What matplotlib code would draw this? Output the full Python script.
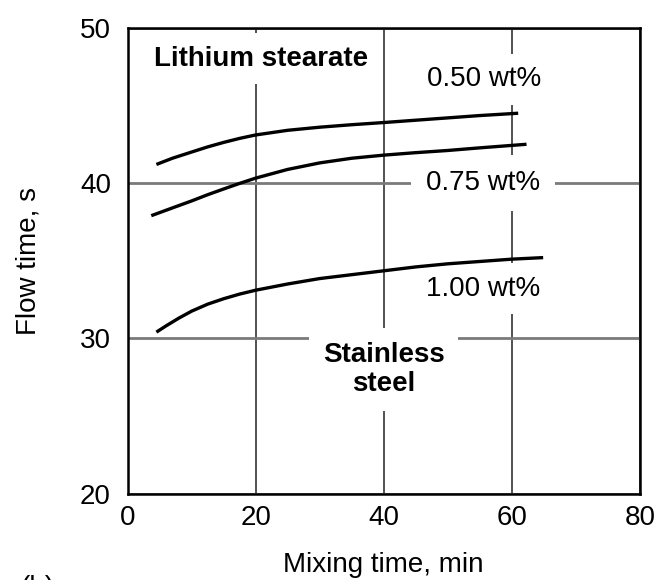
import matplotlib
matplotlib.use("Agg")
import matplotlib.pyplot as plt

plt.rcParams["font.family"] = ["Liberation Sans", "DejaVu Sans"]

# mixing time (min) vs flow time (s)
mix_050 = [4.5, 7, 10, 12.5, 15, 17.5, 20, 25, 30, 35, 40, 45, 50, 55, 61]
flow_050 = [41.2, 41.6, 42.0, 42.33, 42.62, 42.88, 43.1, 43.4, 43.6, 43.76,
            43.9, 44.05, 44.2, 44.35, 44.5]

mix_075 = [3.7, 7, 10, 12.5, 15, 17.5, 20, 25, 30, 35, 40, 45, 50, 55, 62.3]
flow_075 = [37.9, 38.4, 38.85, 39.25, 39.62, 39.98, 40.32, 40.88, 41.3, 41.6,
            41.8, 41.96, 42.1, 42.27, 42.5]

mix_100 = [4.5, 6, 8, 10, 12.5, 15, 17.5, 20, 25, 30, 35, 40, 45, 50, 55, 60, 64.9]
flow_100 = [30.4, 30.8, 31.3, 31.75, 32.2, 32.55, 32.85, 33.1, 33.5, 33.85,
            34.1, 34.35, 34.6, 34.8, 34.95, 35.1, 35.2]

x_ticks = [0, 20, 40, 60, 80]
y_ticks = [20, 30, 40, 50]

FS = 20


def main():
    fig = plt.figure(figsize=(6.61, 5.8), dpi=100)
    ax = fig.add_axes([0.193, 0.149, 0.775, 0.803])

    ax.set_xlim(0, 80)
    ax.set_ylim(20, 50)
    ax.set_xticks(x_ticks)
    ax.set_yticks(y_ticks)
    ax.tick_params(length=0, labelsize=FS, pad=8)
    ax.tick_params(axis="y", pad=12)

    ax.xaxis.grid(True, color="#222222", lw=1.1)
    ax.yaxis.grid(True, color="#7a7a7a", lw=2.0)
    for sp in ax.spines.values():
        sp.set_linewidth(1.8)
        sp.set_zorder(5)

    for x, y in [(mix_050, flow_050), (mix_075, flow_075), (mix_100, flow_100)]:
        ax.plot(x, y, color="black", lw=2.4, solid_capstyle="butt",
                solid_joinstyle="round", zorder=4)

    box = dict(facecolor="white", edgecolor="none", pad=9)
    ax.text(20.9, 48.0, "Lithium stearate", fontsize=FS, fontweight="bold",
            ha="center", va="center", bbox=box, zorder=3)
    ax.text(55.7, 46.7, "0.50 wt%", fontsize=FS, ha="center", va="center",
            bbox=box, zorder=3)
    ax.text(55.5, 40.0, "0.75 wt%", fontsize=FS, ha="center", va="center",
            bbox=dict(facecolor="white", edgecolor="none", pad=11), zorder=3)
    ax.text(55.6, 33.2, "1.00 wt%", fontsize=FS, ha="center", va="center",
            bbox=box, zorder=3)
    ax.text(40.0, 28.0, "Stainless\nsteel", fontsize=FS, fontweight="bold",
            ha="center", va="center", linespacing=1.15,
            bbox=dict(facecolor="white", edgecolor="none", pad=10), zorder=3)

    ax.set_xlabel("Mixing time, min", fontsize=FS, labelpad=15)
    ax.set_ylabel("Flow time, s", fontsize=FS, labelpad=28)

    # panel tag, cut off at the bottom edge as in the source figure
    fig.text(0.03, 0.008, "(b)", fontsize=FS, ha="left", va="top")

    fig.savefig("out.png", dpi=100)
    plt.close(fig)


if __name__ == "__main__":
    main()
